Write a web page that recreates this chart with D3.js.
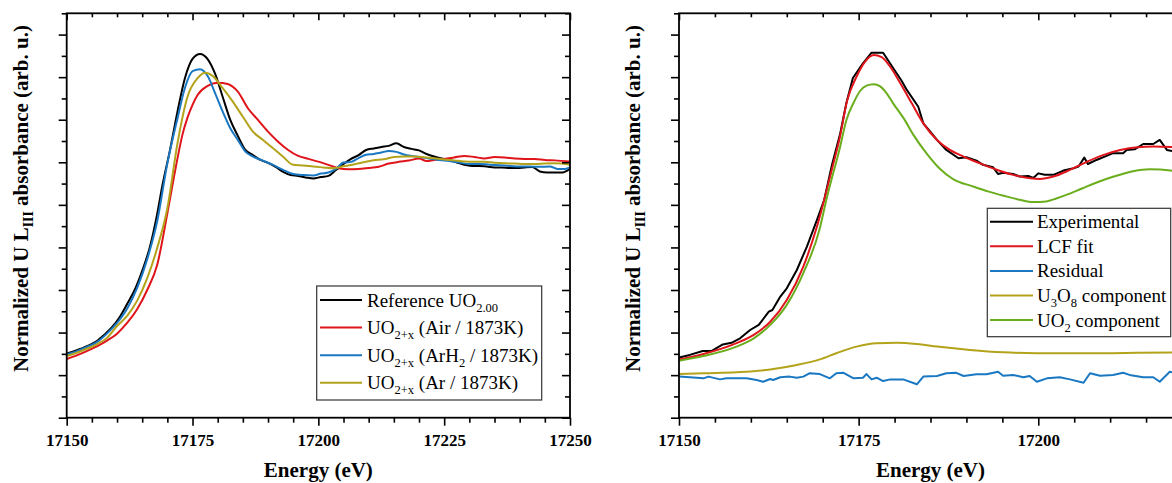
<!DOCTYPE html>
<html>
<head>
<meta charset="utf-8">
<script src="https://cdnjs.cloudflare.com/ajax/libs/d3/7.8.5/d3.min.js"></script>
<style>
  body { margin: 0; background: #fff; }
  svg { display: block; font-family: "Liberation Serif", "Times New Roman", serif; }
</style>
</head>
<body>
<svg id="chart" width="1172" height="483"></svg>
<script>
// ---- data (energy in eV, normalized absorbance in arb. u.) ----
const leftXTicks = [17150, 17175, 17200, 17225, 17250];
const rightXTicks = [17150, 17175, 17200];
const yMajorTicks = [0, 0.2, 0.4, 0.6, 0.8, 1.0, 1.2, 1.4, 1.6, 1.8];
const yMinorTicks = [0.1, 0.3, 0.5, 0.7, 0.9, 1.1, 1.3, 1.5, 1.7, 1.9];

// left panel
const refUO2 = [
  [17150,.302],[17151.5,.312],[17153,.326],[17154.5,.341],[17156,.360],[17157.5,.390],[17159,.425],
  [17160.5,.472],[17162,.534],[17163.5,.600],[17165,.690],[17166.5,.800],[17168,.960],[17169,1.090],
  [17170.5,1.255],[17172,1.437],[17173.5,1.596],[17175,1.686],[17176.5,1.709],[17178,1.685],[17179.5,1.615],
  [17181,1.507],[17182.5,1.399],[17184,1.324],[17185.5,1.258],[17187,1.234],[17188.5,1.211],[17190,1.197],
  [17191.5,1.178],[17193,1.155],[17194.5,1.140],[17196,1.136],[17197.5,1.129],[17199,1.124],[17200.5,1.131],
  [17202,1.136],[17203.5,1.164],[17205,1.192],[17206.5,1.216],[17208,1.234],[17209.5,1.258],[17211,1.265],
  [17212.5,1.272],[17214,1.277],[17215.5,1.289],[17217,1.272],[17218.5,1.263],[17220,1.256],[17221.5,1.239],
  [17223,1.227],[17224.5,1.218],[17226,1.211],[17227.5,1.199],[17229,1.188],[17230.5,1.183],[17232,1.183],
  [17233.5,1.180],[17235,1.176],[17236.5,1.176],[17238,1.173],[17239.5,1.173],[17241,1.176],[17242.5,1.178],
  [17244,1.157],[17245.5,1.152],[17247,1.152],[17248.5,1.152],[17250,1.169]
];
const airUO2 = [
  [17150,.276],[17152,.293],[17154,.313],[17156,.335],[17158,.362],[17160,.395],[17162,.445],[17164,.510],
  [17166,.600],[17168,.720],[17170,.960],[17171.2,1.117],[17172,1.217],[17173,1.330],[17174,1.410],
  [17175,1.470],[17176,1.516],[17178,1.559],[17180,1.574],[17182,1.568],[17184,1.532],[17186,1.454],[17188,1.399],
  [17190,1.344],[17192,1.297],[17194,1.258],[17196,1.230],[17198,1.216],[17200,1.203],[17202,1.188],
  [17204,1.172],[17206,1.167],[17208,1.169],[17210,1.173],[17212,1.179],[17214,1.194],[17216,1.202],
  [17218,1.208],[17220,1.218],[17221.5,1.206],[17223,1.211],[17225,1.216],[17227,1.223],[17229,1.230],
  [17231,1.225],[17233,1.218],[17235,1.225],[17237,1.223],[17239,1.218],[17241,1.216],[17243,1.216],
  [17245,1.211],[17247,1.209],[17250,1.204]
];
const arh2UO2 = [
  [17150,.297],[17152,.313],[17154,.332],[17156,.355],[17158,.395],[17160,.445],[17162,.512],[17164,.610],
  [17166,.745],[17168,.925],[17170,1.195],[17172,1.405],[17173.5,1.55],[17175,1.628],[17176.5,1.637],
  [17178,1.605],[17179.5,1.524],[17181,1.438],[17182.5,1.360],[17184,1.305],[17185.5,1.250],[17187,1.227],
  [17189,1.208],[17191,1.188],[17193,1.164],[17195,1.145],[17197,1.140],[17199,1.138],[17200.5,1.147],
  [17202,1.152],[17203.5,1.169],[17205,1.199],[17206.5,1.202],[17208,1.220],[17209.5,1.235],[17211,1.239],
  [17212.5,1.246],[17214,1.253],[17215.5,1.249],[17217,1.237],[17218.5,1.230],[17220,1.225],[17222,1.218],
  [17224,1.211],[17226,1.206],[17228,1.199],[17230,1.192],[17232,1.192],[17234,1.189],[17236,1.186],
  [17238,1.183],[17240,1.180],[17242,1.180],[17244,1.179],[17246,1.180],[17247.5,1.169],[17249,1.169],
  [17250,1.176]
];
const arUO2 = [
  [17150,.290],[17152,.305],[17154,.324],[17156,.345],[17158,.375],[17160,.431],[17162,.478],[17164,.550],
  [17166,.656],[17168,.799],[17170,.984],[17172,1.288],[17174,1.508],[17176,1.595],[17177.5,1.621],
  [17179,1.606],[17181,1.548],[17183,1.485],[17185,1.414],[17187,1.344],[17189,1.305],[17191,1.266],
  [17193,1.226],[17195,1.188],[17197,1.185],[17199,1.180],[17201,1.176],[17203,1.172],[17205,1.181],
  [17207,1.190],[17209,1.200],[17211,1.210],[17213,1.214],[17215,1.225],[17217,1.227],[17219,1.227],
  [17221,1.224],[17223,1.219],[17225,1.213],[17227,1.209],[17229,1.204],[17231,1.203],[17233,1.203],
  [17235,1.198],[17237,1.195],[17239,1.194],[17241,1.192],[17243,1.192],[17245,1.194],[17247,1.195],
  [17250,1.188]
];

// right panel
const experimental = [
  [17150,.283],[17151.5,.295],[17153.3,.313],[17154.5,.313],[17156.1,.344],[17157.3,.352],[17158.5,.373],
  [17159.9,.412],[17161.1,.436],[17162.5,.498],[17163,.506],[17164.1,.569],[17165,.608],[17166.4,.694],
  [17167.8,.804],[17169.2,.929],[17170.2,1.023],[17171.3,1.19],[17172.4,1.33],[17173.3,1.48],[17174.2,1.596],
  [17175.6,1.665],[17176.8,1.715],[17178.4,1.715],[17179.8,1.643],[17181,1.582],[17181.7,1.540],
  [17183.3,1.461],[17184,1.383],[17185,1.343],[17185.9,1.305],[17187.2,1.258],[17188.9,1.219],[17190,1.224],
  [17191.4,1.208],[17192.3,1.188],[17193.7,1.177],[17194.4,1.145],[17195.1,1.151],[17196.5,1.145],
  [17197.4,1.133],[17198.6,1.136],[17199.3,1.126],[17200,1.148],[17200.9,1.141],[17202.1,1.141],
  [17203.5,1.161],[17204.9,1.172],[17205.6,1.180],[17206.4,1.222],[17206.9,1.192],[17208.1,1.211],
  [17209.5,1.230],[17210.4,1.243],[17211.8,1.243],[17212.3,1.258],[17213.4,1.261],[17214.6,1.286],
  [17216,1.286],[17216.9,1.305],[17217.9,1.258],[17219,1.250]
];
const lcfFit = [
  [17150,.273],[17153.4,.299],[17158,.350],[17160.4,.389],[17162.7,.451],[17165,.553],[17167.3,.710],
  [17169.2,.898],[17171.3,1.17],[17172.4,1.32],[17173.4,1.49],[17174.7,1.602],[17175.9,1.673],[17177.1,1.704],
  [17178.2,1.694],[17179.4,1.649],[17180.8,1.571],[17182.4,1.477],[17184,1.383],[17185.9,1.305],
  [17187.7,1.258],[17189.6,1.227],[17191.9,1.195],[17194.3,1.164],[17196.5,1.141],[17198.9,1.125],
  [17200.2,1.122],[17202.1,1.133],[17204.4,1.164],[17206.8,1.203],[17209.1,1.235],[17211.4,1.258],
  [17213.8,1.271],[17216,1.274],[17219,1.271]
];
const residual = [
  [17150,.193],[17151.5,.190],[17153.4,.185],[17154.1,.193],[17155.7,.180],[17156.6,.185],[17159.4,.185],
  [17160.8,.177],[17161.7,.169],[17162.7,.182],[17163.1,.177],[17164.1,.190],[17165.4,.193],[17166.4,.188],
  [17167.3,.193],[17168.2,.209],[17169.6,.205],[17171,.185],[17171.9,.209],[17172.9,.211],[17174.3,.185],
  [17175.6,.188],[17176.1,.205],[17176.8,.180],[17177.5,.188],[17178.4,.172],[17179.4,.180],[17181.2,.180],
  [17183.1,.157],[17184,.193],[17185.9,.196],[17187.2,.209],[17188.6,.211],[17189.6,.196],[17191.4,.204],
  [17192.8,.204],[17194.4,.216],[17195.1,.197],[17196.5,.201],[17197.9,.190],[17198.8,.196],[17199.8,.169],
  [17201.2,.185],[17203,.190],[17204.4,.180],[17206.3,.164],[17207.2,.209],[17208.6,.197],[17210.4,.201],
  [17211.8,.211],[17212.7,.201],[17214.6,.190],[17216,.190],[17216.9,.169],[17218.3,.216],[17219,.210]
];
const u3o8Component = [
  [17150,.205],[17153.4,.209],[17158,.213],[17162.7,.227],[17166.4,.248],[17169.6,.274],[17171.9,.303],
  [17174.7,.334],[17177.5,.350],[17180.3,.352],[17183.1,.346],[17185.9,.334],[17190.5,.318],[17195.1,.307],
  [17199.8,.303],[17204.4,.303],[17209,.303],[17213.7,.305],[17219,.307]
];
const uo2Component = [
  [17150,.268],[17153.4,.290],[17158,.334],[17160.4,.373],[17162.7,.436],[17165,.530],[17167.3,.679],
  [17169.6,.890],[17170.5,1.023],[17172.4,1.27],[17173.3,1.399],[17174.3,1.480],[17175.2,1.535],
  [17176.1,1.560],[17177.1,1.567],[17178,1.557],[17178.9,1.524],[17179.8,1.477],[17181.3,1.405],
  [17182.6,1.33],[17184.5,1.24],[17186.3,1.17],[17188.2,1.12],[17190.8,1.088],[17193.1,1.062],
  [17195.5,1.040],[17197.4,1.024],[17199.3,1.013],[17201.1,1.016],[17202.5,1.030],[17203.9,1.047],
  [17205.3,1.066],[17206.7,1.086],[17208.5,1.110],[17210.4,1.132],[17213.2,1.158],[17215.5,1.167],
  [17217,1.166],[17219,1.158]
];

// legend labels: segments, "s" marks a subscript
const leftLegend = [
  [["Reference UO"], ["2.00", "s"]],
  [["UO"], ["2+x", "s"], [" (Air / 1873K)"]],
  [["UO"], ["2+x", "s"], [" (ArH"], ["2", "s"], [" / 1873K)"]],
  [["UO"], ["2+x", "s"], [" (Ar / 1873K)"]]
];
const rightLegend = [
  [["Experimental"]],
  [["LCF fit"]],
  [["Residual"]],
  [["U"], ["3", "s"], ["O"], ["8", "s"], [" component"]],
  [["UO"], ["2", "s"], [" component"]]
];

const BLACK = "#000000", RED = "#e0141b", BLUE = "#1a78c2", OLIVE = "#b3a31b", GREEN = "#6aad1d";
const FONT = "'Liberation Serif', 'Times New Roman', serif";

const panels = [
  {
    id: "left", x0: 66.7, x1: 570, xDomain: [17150, 17250], xTicks: leftXTicks, yTitleX: 21,
    series: [[refUO2, BLACK, true], [airUO2, RED, true], [arh2UO2, BLUE, true], [arUO2, OLIVE, true]],
    legend: { x: 316.7, y: 286, w: 225, h: 114, row0: 300, rowH: 27.6, lx0: 320, lx1: 362, tx: 367,
              labels: leftLegend, colors: [BLACK, RED, BLUE, OLIVE] }
  },
  {
    id: "right", x0: 679, x1: 1182, xDomain: [17150, 17220], xTicks: rightXTicks, yTitleX: 633,
    series: [[experimental, BLACK, false], [lcfFit, RED, true], [residual, BLUE, false],
             [u3o8Component, OLIVE, true], [uo2Component, GREEN, true]],
    legend: { x: 987.3, y: 208.3, w: 183.4, h: 128.4, row0: 221.7, rowH: 24.6, lx0: 990, lx1: 1033, tx: 1037,
              labels: rightLegend, colors: [BLACK, RED, BLUE, OLIVE, GREEN] }
  }
];

const TOP = 13.3, BOTTOM = 417.7;
const svg = d3.select("#chart");

function addText(sel, segs) {
  let shifted = false;
  segs.forEach(([t, kind]) => {
    const ts = sel.append("tspan").text(t);
    if (kind === "s") {
      ts.attr("font-size", "0.66em").attr("dy", shifted ? 0 : 5);
      shifted = true;
    } else {
      if (shifted) ts.attr("dy", -5);
      shifted = false;
    }
  });
}

panels.forEach(p => {
  const g = svg.append("g");
  const x = d3.scaleLinear().domain(p.xDomain).range([p.x0, p.x1]);
  const y = d3.scaleLinear().domain([0, 1.9]).range([BOTTOM, TOP]);
  const xMinor = d3.range(p.xDomain[0], p.xDomain[1] + 0.1, 5).filter(v => !p.xTicks.includes(v));

  g.append("clipPath").attr("id", "clip-" + p.id)
    .append("rect").attr("x", p.x0).attr("y", TOP).attr("width", p.x1 - p.x0).attr("height", BOTTOM - TOP);

  const plot = g.append("g").attr("clip-path", `url(#clip-${p.id})`);
  p.series.forEach(([data, color, smooth]) => {
    const line = d3.line().x(d => x(d[0])).y(d => y(d[1]))
      .curve(smooth ? d3.curveMonotoneX : d3.curveLinear);
    plot.append("path").datum(data).attr("d", line)
      .attr("fill", "none").attr("stroke", color).attr("stroke-width", 2)
      .attr("stroke-linejoin", "round");
  });

  const clean = a => a.call(s => s.select(".domain").remove())
    .call(s => s.selectAll(".tick line").attr("stroke", "#000").attr("stroke-width", 1.6));

  // bottom
  g.append("g").attr("transform", `translate(0,${BOTTOM})`)
    .call(d3.axisBottom(x).tickValues(p.xTicks).tickSize(8).tickPadding(8).tickFormat(d3.format("d")))
    .call(clean)
    .call(s => s.selectAll("text").attr("font-family", FONT).attr("font-weight", "bold")
      .attr("font-size", 17).attr("fill", "#000"));
  g.append("g").attr("transform", `translate(0,${BOTTOM})`)
    .call(d3.axisBottom(x).tickValues(xMinor).tickSize(5).tickFormat("")).call(clean);
  // top (inward)
  g.append("g").attr("transform", `translate(0,${TOP})`)
    .call(d3.axisTop(x).tickValues(p.xTicks).tickSize(-7).tickFormat("")).call(clean);
  g.append("g").attr("transform", `translate(0,${TOP})`)
    .call(d3.axisTop(x).tickValues(xMinor).tickSize(-4).tickFormat("")).call(clean);
  // left (outward)
  g.append("g").attr("transform", `translate(${p.x0},0)`)
    .call(d3.axisLeft(y).tickValues(yMajorTicks).tickSize(8).tickFormat("")).call(clean);
  g.append("g").attr("transform", `translate(${p.x0},0)`)
    .call(d3.axisLeft(y).tickValues(yMinorTicks).tickSize(5).tickFormat("")).call(clean);
  // right (inward)
  g.append("g").attr("transform", `translate(${p.x1},0)`)
    .call(d3.axisRight(y).tickValues(yMajorTicks).tickSize(-8).tickFormat("")).call(clean);
  g.append("g").attr("transform", `translate(${p.x1},0)`)
    .call(d3.axisRight(y).tickValues(yMinorTicks).tickSize(-5).tickFormat("")).call(clean);

  // frame
  g.append("rect").attr("x", p.x0).attr("y", TOP).attr("width", p.x1 - p.x0).attr("height", BOTTOM - TOP)
    .attr("fill", "none").attr("stroke", "#000").attr("stroke-width", 1.8);

  // axis titles
  g.append("text").attr("x", (p.x0 + p.x1) / 2).attr("y", 477).attr("text-anchor", "middle")
    .attr("font-family", FONT).attr("font-weight", "bold").attr("font-size", 21).text("Energy (eV)");
  const yt = g.append("text").attr("transform", `translate(${p.yTitleX},198.5) rotate(-90)`)
    .attr("text-anchor", "middle").attr("dy", "0.35em").attr("font-family", FONT)
    .attr("font-weight", "bold").attr("font-size", 21);
  addText(yt, [["Normalized U L"], ["III", "s"], [" absorbance (arb. u.)"]]);

  // legend
  const L = p.legend;
  const lg = g.append("g");
  lg.append("rect").attr("x", L.x).attr("y", L.y).attr("width", L.w).attr("height", L.h)
    .attr("fill", "#fff").attr("stroke", "#333").attr("stroke-width", 1.2);
  L.labels.forEach((segs, i) => {
    const yy = L.row0 + i * L.rowH;
    lg.append("line").attr("x1", L.lx0).attr("x2", L.lx1).attr("y1", yy).attr("y2", yy)
      .attr("stroke", L.colors[i]).attr("stroke-width", 2);
    const t = lg.append("text").attr("x", L.tx).attr("y", yy + 6.5).attr("font-family", FONT)
      .attr("font-size", 19).attr("fill", "#000");
    addText(t, segs);
  });
});
</script>
</body>
</html>
